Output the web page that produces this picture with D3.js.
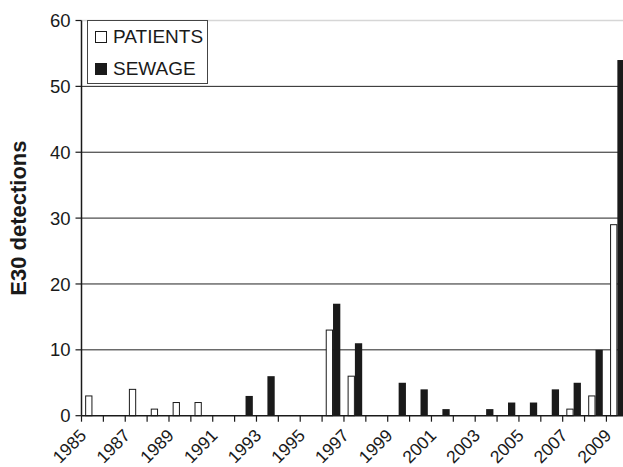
<!DOCTYPE html>
<html lang="en">
<head>
  <meta charset="UTF-8">
  <title>E30 detections</title>
  <script src="https://d3js.org/d3.v7.min.js"></script>
  <style>
    body { margin: 0; background: #ffffff; }
    svg { display: block; }
    .tick-label { font-family: 'Liberation Sans', Arial, Helvetica, sans-serif; font-size: 18.5px; fill: #1a1a1a; }
    .x-label { font-family: 'Liberation Sans', Arial, Helvetica, sans-serif; font-size: 17.5px; fill: #1a1a1a; }
    .axis-title { font-family: 'Liberation Sans', Arial, Helvetica, sans-serif; font-size: 22px; font-weight: 700; fill: #1a1a1a; }
    .legend text { font-family: 'Liberation Sans', Arial, Helvetica, sans-serif; font-size: 19px; fill: #1a1a1a; }
  </style>
</head>
<body>
  <svg id="chart" width="623" height="467"></svg>
  <script>
    const years = d3.range(1985, 2010);
    const patients = [3, 0, 4, 1, 2, 2, 0, 0, 0, 0, 0, 13, 6, 0, 0, 0, 0, 0, 0, 0, 0, 0, 1, 3, 29];
    const sewage   = [0, 0, 0, 0, 0, 0, 0, 3, 6, 0, 0, 17, 11, 0, 5, 4, 1, 0, 1, 2, 2, 4, 5, 10, 54];
    const yTicks = [0, 10, 20, 30, 40, 50, 60];
    const seriesNames = ["PATIENTS", "SEWAGE"];

    const svg = d3.select("#chart");
    const plotLeft = 81.5, plotRight = 628.3, plotTop = 20.5, plotBottom = 415.7;

    const x = d3.scaleBand().domain(years).range([plotLeft, plotRight]).padding(0);
    const bw = x.bandwidth();
    const xs = d3.scaleBand().domain(seriesNames).range([bw / 6, bw * 5 / 6]).padding(0);
    const y = d3.scaleLinear().domain([0, 60]).range([plotBottom, plotTop]);

    // gridlines
    svg.append("g").selectAll("line")
      .data(yTicks.filter(d => d > 0))
      .join("line")
      .attr("x1", plotLeft).attr("x2", 623)
      .attr("y1", d => y(d)).attr("y2", d => y(d))
      .attr("stroke", d => d === 60 ? "#d6d6d6" : "#222")
      .attr("stroke-width", d => d === 60 ? 1.5 : 1);

    // bars
    const rows = years.map((yr, i) => ({year: yr, PATIENTS: patients[i], SEWAGE: sewage[i]}));
    const grp = svg.append("g").selectAll("g")
      .data(rows)
      .join("g")
      .attr("transform", d => `translate(${x(d.year)},0)`);

    grp.selectAll("rect")
      .data(d => seriesNames.map(k => ({key: k, value: d[k]})).filter(v => v.value > 0))
      .join("rect")
      .attr("x", d => xs(d.key) + (d.key === "PATIENTS" ? 0.5 : 0))
      .attr("width", d => xs.bandwidth() - (d.key === "PATIENTS" ? 1 : 0))
      .attr("y", d => y(d.value))
      .attr("height", d => plotBottom - y(d.value))
      .attr("fill", d => d.key === "PATIENTS" ? "#ffffff" : "#1a1a1a")
      .attr("stroke", d => d.key === "PATIENTS" ? "#1a1a1a" : "none")
      .attr("stroke-width", 1);

    // y axis
    const yAxis = svg.append("g");
    yAxis.append("line")
      .attr("x1", plotLeft).attr("x2", plotLeft).attr("y1", plotTop).attr("y2", plotBottom)
      .attr("stroke", "#1a1a1a").attr("stroke-width", 1.5);
    yAxis.selectAll(".yt")
      .data(yTicks)
      .join("line")
      .attr("x1", plotLeft - 6).attr("x2", plotLeft)
      .attr("y1", d => y(d)).attr("y2", d => y(d))
      .attr("stroke", "#1a1a1a").attr("stroke-width", 1.2);
    yAxis.selectAll("text")
      .data(yTicks)
      .join("text")
      .attr("class", "tick-label")
      .attr("x", plotLeft - 11)
      .attr("y", d => y(d) + 6.6)
      .attr("text-anchor", "end")
      .text(d => d);

    // x axis
    const xAxis = svg.append("g");
    xAxis.append("line")
      .attr("x1", plotLeft).attr("x2", 623).attr("y1", plotBottom).attr("y2", plotBottom)
      .attr("stroke", "#1a1a1a").attr("stroke-width", 1.5);
    xAxis.selectAll(".xt")
      .data(years)
      .join("line")
      .attr("x1", d => x(d)).attr("x2", d => x(d))
      .attr("y1", plotBottom).attr("y2", plotBottom + 6)
      .attr("stroke", "#1a1a1a").attr("stroke-width", 1.2);
    xAxis.selectAll("text")
      .data(years.filter((d, i) => i % 2 === 0))
      .join("text")
      .attr("class", "x-label")
      .attr("text-anchor", "end")
      .attr("transform", d => `translate(${x(d) + bw / 2 - 5},${plotBottom + 21}) rotate(-45)`)
      .text(d => d);

    svg.append("text")
      .attr("class", "axis-title")
      .attr("transform", `translate(25.5,${(plotTop + plotBottom) / 2}) rotate(-90)`)
      .attr("text-anchor", "middle")
      .text("E30 detections");

    // legend
    const legend = svg.append("g").attr("class", "legend");
    legend.append("rect")
      .attr("x", 87.5).attr("y", 20.5).attr("width", 120).attr("height", 63)
      .attr("fill", "#ffffff").attr("stroke", "#444").attr("stroke-width", 1);
    seriesNames.forEach((name, i) => {
      const yy = 31.5 + i * 32;
      legend.append("rect")
        .attr("x", 95.5).attr("y", yy).attr("width", 11).attr("height", 11)
        .attr("fill", i === 0 ? "#ffffff" : "#1a1a1a")
        .attr("stroke", "#1a1a1a").attr("stroke-width", 1);
      legend.append("text")
        .attr("x", 113).attr("y", yy + 11.5)
        .text(name);
    });
  </script>
</body>
</html>
